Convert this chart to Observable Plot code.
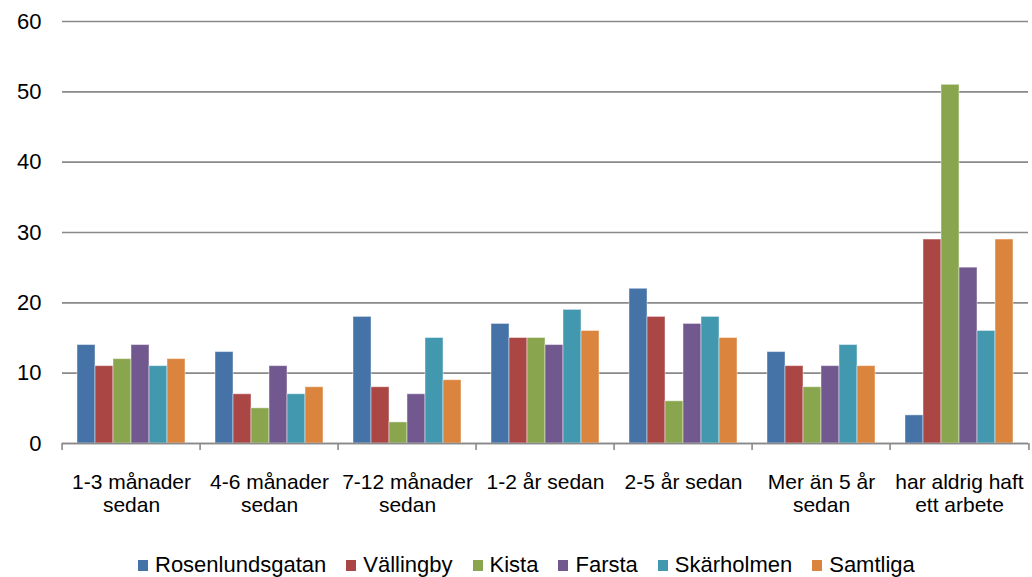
<!DOCTYPE html>
<html>
<head>
<meta charset="utf-8">
<script src="https://cdn.jsdelivr.net/npm/d3@7"></script>
<script src="https://cdn.jsdelivr.net/npm/@observablehq/plot@0.6"></script>
<style>
  html, body { margin: 0; padding: 0; background: #fff; }
  body { width: 1032px; height: 577px; overflow: hidden; font-family: "Liberation Sans", Arial, sans-serif; }
  #legend { display: flex; align-items: center; padding-left: 138px; padding-top: 14px; font-size: 22px; line-height: 22px; color: #000; }
  #legend .item { display: flex; align-items: center; margin-right: 20px; }
  #legend .sw { width: 10px; height: 11px; margin-right: 7px; }
</style>
</head>
<body>
<div id="chart"></div>
<div id="legend"></div>
<script>
const categories = ["1-3 månader sedan", "4-6 månader sedan", "7-12 månader sedan", "1-2 år sedan", "2-5 år sedan", "Mer än 5 år sedan", "har aldrig haft ett arbete"];
const tickLabels = ["1-3 månader\nsedan", "4-6 månader\nsedan", "7-12 månader\nsedan", "1-2 år sedan", "2-5 år sedan", "Mer än 5 år\nsedan", "har aldrig haft\nett arbete"];
const series = ["Rosenlundsgatan", "Vällingby", "Kista", "Farsta", "Skärholmen", "Samtliga"];
const colors = ["#4572A7", "#AA4643", "#89A54E", "#71588F", "#4198AF", "#DB843D"];
const rosenlundsgatan = [14, 13, 18, 17, 22, 13, 4];
const vallingby = [11, 7, 8, 15, 18, 11, 29];
const kista = [12, 5, 3, 15, 6, 8, 51];
const farsta = [14, 11, 7, 14, 17, 11, 25];
const skarholmen = [11, 7, 15, 19, 18, 14, 16];
const samtliga = [12, 8, 9, 16, 15, 11, 29];
const yTicks = [0, 10, 20, 30, 40, 50, 60];

const seriesValues = [rosenlundsgatan, vallingby, kista, farsta, skarholmen, samtliga];
const data = [];
categories.forEach((c, i) => {
  series.forEach((s, j) => data.push({category: c, series: s, value: seriesValues[j][i]}));
});
const labelOf = new Map(categories.map((c, i) => [c, tickLabels[i]]));

const W = 1032, H = 540, mL = 59, mR = 1, mT = 21, mB = 97;
const half = (W - mL - mR) / categories.length / 2;
const gray = "#898989";
const font = "Liberation Sans, Arial, sans-serif";

const chart = Plot.plot({
  width: W,
  height: H,
  marginLeft: mL,
  marginRight: mR,
  marginTop: mT,
  marginBottom: mB,
  style: {fontFamily: font, color: "#000", background: "#fff", overflow: "visible"},
  fx: {domain: categories, padding: 0},
  x: {domain: series, paddingInner: 0, paddingOuter: 0.8, axis: null},
  y: {domain: [0, 60]},
  color: {domain: series, range: colors},
  marks: [
    Plot.gridY(yTicks, {stroke: gray, strokeOpacity: 1, strokeWidth: 1.6}),
    Plot.barY(data, {fx: "category", x: "series", y: "value", fill: "series", stroke: "#fff", strokeOpacity: 0.45, strokeWidth: 1}),
    Plot.ruleY([0], {stroke: gray, strokeWidth: 1.6}),
    Plot.axisY(yTicks, {tickSize: 0, tickPadding: 21, fontSize: 22, label: null}),
    Plot.axisFx({anchor: "bottom", tickSize: 0, tickPadding: 29, fontSize: 21, lineHeight: 1.1, tickFormat: d => labelOf.get(d), label: null}),
    Plot.axisFx({anchor: "bottom", tickSize: 7, tickFormat: () => "", label: null, dx: -half, stroke: gray, strokeWidth: 1.6}),
    Plot.axisFx({anchor: "bottom", ticks: [categories[categories.length - 1]], tickSize: 7, tickFormat: () => "", label: null, dx: half, stroke: gray, strokeWidth: 1.6})
  ]
});
document.getElementById("chart").appendChild(chart);

const legend = document.getElementById("legend");
series.forEach((s, i) => {
  const item = document.createElement("div");
  item.className = "item";
  const sw = document.createElement("div");
  sw.className = "sw";
  sw.style.background = colors[i];
  const t = document.createElement("span");
  t.textContent = s;
  item.appendChild(sw);
  item.appendChild(t);
  legend.appendChild(item);
});
</script>
</body>
</html>
